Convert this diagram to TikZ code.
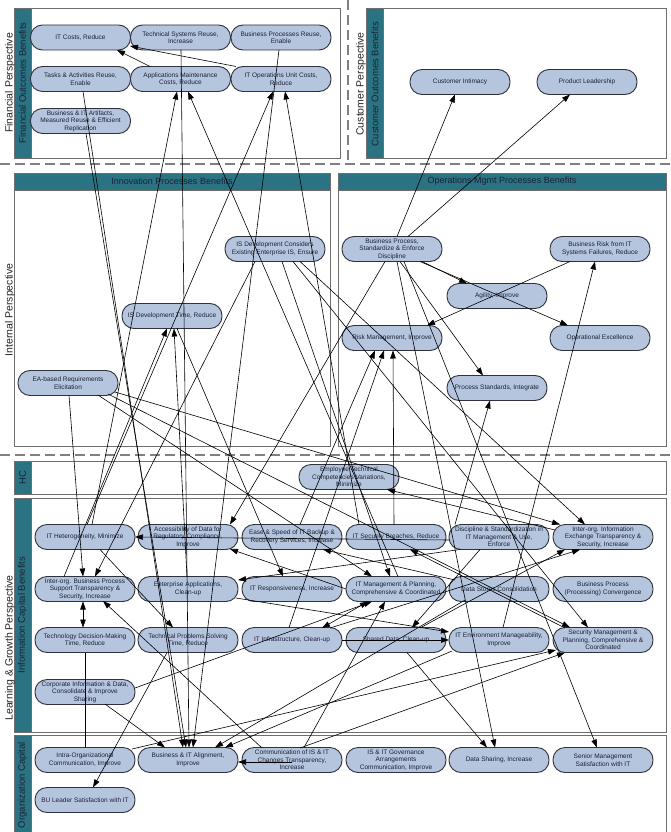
\documentclass[tikz,border=0pt]{standalone}
\usepackage{fontspec}
\setmainfont{Liberation Sans}
\usetikzlibrary{calc,arrows.meta}
\definecolor{teal1}{RGB}{43,115,130}
\definecolor{nodefill}{RGB}{181,197,222}
\definecolor{nodeline}{RGB}{45,50,60}
\definecolor{panelline}{RGB}{110,110,110}
\definecolor{dashcol}{RGB}{128,128,128}
\definecolor{txt}{RGB}{25,35,55}
\begin{document}
\begin{tikzpicture}[x=1pt,y=-1pt,
 goal/.style={draw=nodeline, line width=0.9pt, fill=nodefill, rounded corners=12pt, minimum width=100pt, minimum height=25pt, inner sep=1pt, align=center, font=\fontsize{6.5}{7.6}\selectfont, text=txt},
 panel/.style={draw=panelline, line width=0.8pt, fill=white},
 bar/.style={fill=teal1, draw=panelline, line width=0.6pt},
 bartext/.style={rotate=90, font=\fontsize{9.5}{11}\selectfont, text=txt, inner sep=0pt},
 hdrtext/.style={font=\fontsize{9}{11}\selectfont, text=txt, inner sep=0pt},
 persp/.style={rotate=90, font=\fontsize{10.5}{12}\selectfont, text=black!85, inner sep=0pt},
 sep/.style={draw=dashcol, line width=1.4pt, dash pattern=on 10pt off 5pt},
 arr/.style={draw=black, line width=0.6pt, -{Triangle[length=8pt,width=5.5pt]}},
 darr/.style={draw=black, line width=0.6pt, {Triangle[length=8pt,width=5.5pt]}-{Triangle[length=8pt,width=5.5pt]}},
 plain/.style={draw=black, line width=0.6pt},
]
\useasboundingbox (0,0) rectangle (671,832);
\fill[white] (0,0) rectangle (671,832);
% separators
\draw[sep] (0,164) -- (671,164);
\draw[sep] (0,455) -- (671,455);
\draw[sep] (348,0) -- (348,160);
% panels
\draw[panel] (14,8) rectangle (340,158);
\draw[bar] (14,8) rectangle (31,158);
\draw[panel] (366,8) rectangle (666,158);
\draw[bar] (366,8) rectangle (383,158);
\draw[panel] (14,173) rectangle (330,446);
\draw[bar] (14,173) rectangle (330,190);
\draw[panel] (338,173) rectangle (666,446);
\draw[bar] (338,173) rectangle (666,190);
\draw[panel] (14,461) rectangle (666,494);
\draw[bar] (14,461) rectangle (31,494);
\draw[panel] (14,498) rectangle (666,732);
\draw[bar] (14,498) rectangle (31,732);
\draw[panel] (14,735) rectangle (666,840);
\draw[bar] (14,735) rectangle (31,840);
% labels
\node[persp] (lFinP) at (10,83) {Financial Perspective};
\node[bartext] (lFinB) at (22.5,83) {Financial Outcomes Benefits};
\node[persp] (lCusP) at (361,84) {Customer Perspective};
\node[bartext] (lCusB) at (375,84) {Customer Outcomes Benefits};
\node[persp] (lIntP) at (10,310) {Internal Perspective};
\node[hdrtext] (lInn) at (172,181.5) {Innovation Processes Benefits};
\node[hdrtext] (lOps) at (502,181.5) {Operations Mgmt Processes Benefits};
\node[bartext] (lHC) at (22.5,477.5) {HC};
\node[bartext] (lInfo) at (22.5,615) {Information Capital Benefits};
\node[bartext] (lOrg) at (22.5,785) {Organization Capital};
\node[persp] (lLGP) at (10,648) {Learning \& Growth Perspective};
% financial nodes
\node[goal] (ITCosts) at (80.5,37.5) {IT Costs, Reduce};
\node[goal] (TechSys) at (180.5,37.5) {Technical Systems Reuse,\\Increase};
\node[goal] (BPReuse) at (281,37.5) {Business Processes Reuse,\\Enable};
\node[goal] (Tasks) at (80.5,79) {Tasks \& Activities Reuse,\\Enable};
\node[goal] (AppMaint) at (180.5,79) {Applications Maintenance\\Costs, Reduce};
\node[goal] (ITOps) at (281,79) {IT Operations Unit Costs,\\Reduce};
\node[goal] (Artifacts) at (80.5,121) {Business \& IT Artifacts,\\Measured Reuse \& Efficient\\Replication};
% customer
\node[goal] (CustInt) at (460,82) {Customer Intimacy};
\node[goal] (ProdLead) at (587,82) {Product Leadership};
% innovation
\node[goal] (ISDevCons) at (275,249) {IS Development Considers\\Existing Enterprise IS, Ensure};
\node[goal] (ISDevTime) at (172,316) {IS Development Time, Reduce};
\node[goal] (EAReq) at (68,383) {EA-based Requirements\\Elicitation};
% operations
\node[goal] (BPStd) at (392,249) {Business Process,\\Standardize \& Enforce\\Discipline};
\node[goal] (BusRisk) at (600,249) {Business Risk from IT\\Systems Failures, Reduce};
\node[goal] (Agility) at (497,296) {Agility, Improve};
\node[goal] (RiskMgmt) at (392,338) {Risk Management, Improve};
\node[goal] (OpEx) at (600,338) {Operational Excellence};
\node[goal] (ProcStd) at (497,388) {Process Standards, Integrate};
% HC
\node[goal] (EmpTech) at (349,477) {Employee Technical\\Competencies Variations,\\Minimize};
% information capital
\node[goal] (ITHet) at (85,537) {IT Heterogeneity, Minimize};
\node[goal] (Access) at (188,537) {Accessibility of Data for\\Regulatory Compliance,\\Improve};
\node[goal] (Ease) at (292,537) {Ease \& Speed of IT Backup \&\\Recovery Services, Increase};
\node[goal] (ITSec) at (396,537) {IT Security Breaches, Reduce};
\node[goal] (Discipline) at (499,537) {Discipline \& Standardization in\\IT Management \& Use,\\Enforce};
\node[goal] (InfoEx) at (603,537) {Inter-org. Information\\Exchange Transparency \&\\Security, Increase};
\node[goal] (InterBP) at (85,589) {Inter-org. Business Process\\Support Transparency \&\\Security, Increase};
\node[goal] (EntApps) at (188,589) {Enterprise Applications,\\Clean-up};
\node[goal] (ITResp) at (292,589) {IT Responsiveness, Increase};
\node[goal] (ITMgmt) at (396,589) {IT Management \& Planning,\\Comprehensive \& Coordinated};
\node[goal] (DataStores) at (499,589) {Data Stores Consolidation};
\node[goal] (BPConv) at (603,589) {Business Process\\(Processing) Convergence};
\node[goal] (TechDec) at (85,640) {Technology Decision-Making\\Time, Reduce};
\node[goal] (TechProb) at (188,640) {Technical Problems Solving\\Time, Reduce};
\node[goal] (ITInfra) at (292,640) {IT Infrastructure, Clean-up};
\node[goal] (SharedData) at (396,640) {Shared Data, Clean-up};
\node[goal] (ITEnv) at (499,640) {IT Environment Manageability,\\Improve};
\node[goal] (SecMgmt) at (603,640) {Security Management \&\\Planning, Comprehensive \&\\Coordinated};
\node[goal] (CorpInfo) at (85,692) {Corporate Information \& Data,\\Consolidate \& Improve\\Sharing};
% organization capital
\node[goal] (IntraOrg) at (85,760) {Intra-Organizational\\Communication, Improve};
\node[goal] (BITAlign) at (188,760) {Business \& IT Alignment,\\Improve};
\node[goal] (CommIS) at (292,760) {Communication of IS \& IT\\Changes Transparency,\\Increase};
\node[goal] (ISGov) at (396,760) {IS \& IT Governance\\Arrangements\\Communication, Improve};
\node[goal] (DataSharing) at (499,760) {Data Sharing, Increase};
\node[goal] (SeniorMgmt) at (603,760) {Senior Management\\Satisfaction with IT};
\node[goal] (BULeader) at (85,800) {BU Leader Satisfaction with IT};
% connectors
\draw[arr] ($(AppMaint)+(-30.5,-12.5)$) -- ($(ITCosts)+(36.5,12.5)$);
\draw[arr] ($(ITOps)+(-45,-12.5)$) -- ($(ITCosts)+(49.5,8.5)$);
\draw[arr] ($(ITHet)+(7,-12.5)$) -- ($(AppMaint)+(-3.5,12.5)$);
\draw[arr] ($(ITHet)+(2,-12.5)$) -- ($(ITOps)+(-8,12.5)$);
\draw[arr] ($(ITSec)+(-37,-12.5)$) -- ($(ITOps)+(4,12.5)$);
\draw[arr] ($(Tasks)+(2.5,12.5)$) -- ($(BITAlign)+(-5,-12.5)$);
\draw[arr] ($(Artifacts)+(5.5,12.5)$) -- ($(BITAlign)+(-2,-12.5)$);
\draw[arr] ($(TechSys)+(0.5,12.5)$) -- ($(BITAlign)+(1,-12.5)$);
\draw[arr] ($(BPReuse)+(-2,12.5)$) -- ($(BITAlign)+(5,-12.5)$);
\draw[arr] ($(BPStd)+(5,-12.5)$) -- ($(CustInt)+(-5,12.5)$);
\draw[arr] ($(BPStd)+(16,-12.5)$) -- ($(ProdLead)+(-17,12.5)$);
\draw[arr] ($(BPStd)+(30,12.5)$) -- ($(Agility)+(-30,-12.5)$);
\draw[arr] ($(BPStd)+(28,12.5)$) -- ($(OpEx)+(-32,-12.5)$);
\draw[arr] ($(BusRisk)+(-30,12.5)$) -- ($(RiskMgmt)+(35,-12.5)$);
\draw[arr] ($(BPStd)+(8,12.5)$) -- ($(ProcStd)+(-14,-12.5)$);
\draw[arr] ($(ITEnv)+(4,-12.5)$) -- ($(BusRisk)+(-5,12.5)$);
\draw[arr] ($(Discipline)+(-44,-12.5)$) -- ($(ProcStd)+(-7,12.5)$);
\draw[arr] ($(ITSec)+(-2,-12.5)$) -- ($(RiskMgmt)+(1,12.5)$);
\draw[arr] ($(Ease)+(8,-12.5)$) -- ($(RiskMgmt)+(-17,12.5)$);
\draw[arr] ($(ITInfra)+(-3,-12.5)$) -- ($(RiskMgmt)+(-8,12.5)$);
\draw[arr] ($(InterBP)+(-21,-12.5)$) -- ($(ISDevTime)+(-5,12.5)$);
\draw[arr] ($(EntApps)+(-1,-12.5)$) -- ($(ISDevTime)+(2,12.5)$);
\draw[arr] ($(ISDevCons)+(-20,12.5)$) -- ($(InterBP)+(10,-12.5)$);
\draw[arr] ($(ISDevCons)+(25,12.5)$) -- ($(InfoEx)+(-18,-12.5)$);
\draw[arr] ($(ISDevCons)+(18,12.5)$) -- ($(SecMgmt)+(-15,-12.5)$);
\draw[arr] ($(EAReq)+(47,9)$) -- ($(InfoEx)+(-43,-12.5)$);
\draw[arr] ($(EAReq)+(40,11)$) -- ($(SecMgmt)+(-33,-12.5)$);
\draw[arr] ($(EAReq)+(30,12)$) -- ($(ITMgmt)+(-24,-12.5)$);
\draw[arr] ($(ISDevCons)+(7,12.5)$) -- ($(ITMgmt)+(-6,-12.5)$);
\draw[arr] ($(ITMgmt)+(2,-12.5)$) -- ($(AppMaint)+(7.5,12.5)$);
\draw[arr] ($(ITMgmt)+(-50,0)$) -- ($(Access)+(42,12)$);
\draw[darr] ($(ITMgmt)+(-28,12.5)$) -- ($(ITInfra)+(30,-12)$);
\draw[arr] ($(ITInfra)+(50,0)$) -- ($(ITEnv)+(-50,0)$);
\draw[arr] ($(EntApps)+(48,9)$) -- ($(ITEnv)+(-50,-8)$);
\draw[arr] ($(Discipline)+(-19,12.5)$) -- ($(SharedData)+(16,-12.5)$);
\draw[arr] ($(SecMgmt)+(-38,-12)$) -- ($(ITSec)+(14,12.5)$);
\draw[arr] ($(SharedData)+(24,-12)$) -- ($(InfoEx)+(-38,12.5)$);
\draw[arr] ($(ITInfra)+(38,-12)$) -- ($(InfoEx)+(-23,12.5)$);
\draw[arr] ($(IntraOrg)+(47,-11)$) -- ($(SecMgmt)+(-47,10)$);
\draw[arr] ($(CommIS)+(8,-12)$) -- ($(SecMgmt)+(-38,12.5)$);
\draw[arr] ($(CorpInfo)+(20,12)$) -- ($(BITAlign)+(-23,-12.5)$);
\draw[arr] ($(CommIS)+(0,2)$) -- ($(BITAlign)+(50,2)$);
\draw[arr] ($(ITEnv)+(-47,11)$) -- ($(BITAlign)+(37,-12.5)$);
\draw[arr] ($(DataStores)+(-34,11)$) -- ($(BITAlign)+(27,-12.5)$);
\draw[arr] ($(TechProb)+(-21,12.5)$) -- ($(BULeader)+(8,-12.5)$);
\draw[darr] ($(InterBP)+(-2,12.5)$) -- ($(TechDec)+(-2,-12.5)$);
\draw[arr] ($(EAReq)+(1,12.5)$) -- ($(InterBP)+(-2,-12.5)$);
\draw[plain] ($(IntraOrg)+(0,-12.5)$) -- ($(TechDec)+(0,12.5)$);
\draw[arr] ($(CommIS)+(-30,-12)$) -- ($(InterBP)+(18,12)$);
\draw[arr] ($(ITHet)+(15,12.5)$) -- ($(TechProb)+(-15,-12.5)$);
\draw[arr] ($(Discipline)+(-39,12.5)$) -- ($(EntApps)+(50,-9)$);
\draw[arr] ($(ISDevTime)+(5,12.5)$) -- ($(ITResp)+(-9,-12.5)$);
\draw[arr] ($(InfoEx)+(-48,-7)$) -- ($(EmpTech)+(38,12.5)$);
\draw[arr] ($(Discipline)+(-50,3)$) -- ($(ITHet)+(50,0)$);
\draw[arr] ($(DataStores)+(-44,-9)$) -- ($(Ease)+(31,12.5)$);
\draw[arr] ($(SharedData)+(11,12.5)$) -- ($(DataSharing)+(-12,-12.5)$);
\draw[arr] ($(BPStd)+(5,12.5)$) -- ($(DataSharing)+(-4,-12.5)$);
\draw[arr] ($(BPStd)+(12,12.5)$) -- ($(SeniorMgmt)+(-6,-12.5)$);
\draw[arr] ($(BPStd)+(-7,12.5)$) -- ($(Access)+(42,-12.5)$);
\draw[arr] ($(CommIS)+(12,-12.5)$) -- ($(ITMgmt)+(-11,12.5)$);
\draw[arr] ($(CorpInfo)+(50,-4)$) -- ($(ITMgmt)+(-24,12.5)$);
\end{tikzpicture}
\end{document}
